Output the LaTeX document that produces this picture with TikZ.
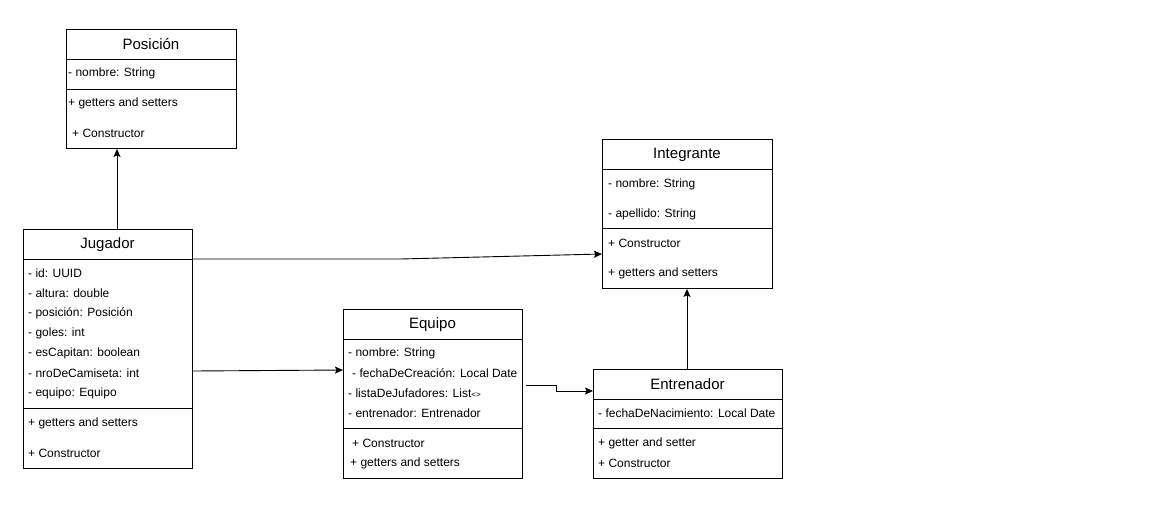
\documentclass[tikz,border=0pt]{standalone}
\usepackage{fontspec}
\setmainfont{Liberation Sans}
\usetikzlibrary{arrows.meta}
\begin{document}
\begin{tikzpicture}[x=1pt,y=-1pt,
  box/.style={draw, line width=0.9pt, anchor=north west, inner sep=0pt},
  ttl/.style={font=\fontsize{15}{17}\selectfont, inner sep=0pt, yshift=-0.5pt},
  attr/.style={font=\fontsize{12}{14}\selectfont, anchor=west, inner sep=0pt, yshift=-1pt},
  divl/.style={line width=0.9pt},
  arr/.style={line width=0.9pt, -{Stealth[length=8pt,width=7pt,inset=1.5pt]}}]
\useasboundingbox (0,0) rectangle (1173,531);
% Posicion
\node[box, minimum width=170pt, minimum height=119pt] (pos) at (66,29) {};
\node[ttl] (posT) at (151,44) {Posición};
\draw[divl] (66,59) -- (236,59);
\node[attr] (posA1) at (68,72) {- nombre: String};
\draw[divl] (66,89) -- (236,89);
\node[attr] (posM1) at (68,102) {+ getters and setters};
\node[attr] (posM2) at (72,132) {+ Constructor};
% Jugador
\node[box, minimum width=169pt, minimum height=239pt] (jug) at (23,229) {};
\node[ttl] (jugT) at (107.5,244) {Jugador};
\draw[divl] (23,259) -- (192,259);
\node[attr] (jugA1) at (28,272) {- id: UUID};
\node[attr] (jugA2) at (28,292) {- altura: double};
\node[attr] (jugA3) at (28,312) {- posición: Posición};
\node[attr] (jugA4) at (28,332) {- goles: int};
\node[attr] (jugA5) at (28,352) {- esCapitan: boolean};
\node[attr] (jugA6) at (28,372) {- nroDeCamiseta: int};
\node[attr] (jugA7) at (28,392) {- equipo: Equipo};
\draw[divl] (23,408) -- (192,408);
\node[attr] (jugM1) at (28,422) {+ getters and setters};
\node[attr] (jugM2) at (28,452) {+ Constructor};
% Equipo
\node[box, minimum width=179pt, minimum height=169pt] (equ) at (343,309) {};
\node[ttl] (equT) at (432.5,324) {Equipo};
\draw[divl] (343,339) -- (522,339);
\node[attr] (equA1) at (348,352) {- nombre: String};
\node[attr] (equA2) at (352,372) {- fechaDeCreación: Local Date};
\node[attr] (equA3) at (348,392) {- listaDeJufadores: List{\fontsize{8}{9}\selectfont<>}};
\node[attr] (equA4) at (348,412) {- entrenador: Entrenador};
\draw[divl] (343,428) -- (522,428);
\node[attr] (equM1) at (352,442) {+ Constructor};
\node[attr] (equM2) at (350,462) {+ getters and setters};
% Integrante
\node[box, minimum width=170pt, minimum height=149pt] (int) at (602,139) {};
\node[ttl] (intT) at (687,154) {Integrante};
\draw[divl] (602,169) -- (772,169);
\node[attr] (intA1) at (608,183) {- nombre: String};
\node[attr] (intA2) at (608,213) {- apellido: String};
\draw[divl] (602,228) -- (772,228);
\node[attr] (intM1) at (608,242) {+ Constructor};
\node[attr] (intM2) at (608,272) {+ getters and setters};
% Entrenador
\node[box, minimum width=189pt, minimum height=109pt] (ent) at (593,369) {};
\node[ttl] (entT) at (687.5,384) {Entrenador};
\draw[divl] (593,399) -- (782,399);
\node[attr] (entA1) at (598,412) {- fechaDeNacimiento: Local Date};
\draw[divl] (593,428) -- (782,428);
\node[attr] (entM1) at (598,442) {+ getter and setter};
\node[attr] (entM2) at (598,462) {+ Constructor};
% connectors
\draw[arr] (117,0 |- jug.north) -- (117,0 |- pos.south);
\draw[arr] (jug.east |- 0,259) -- (400,259) -- (int.west |- 0,254);
\draw[arr] (jug.east |- 0,371) -- (equ.west |- 0,370);
\coordinate (e1) at (556,385);
\coordinate (e2) at (556,391);
\draw[arr] (526,385) -- (e1) -- (e2) -- (ent.west |- e2);
\draw[arr] (687,0 |- ent.north) -- (687,0 |- int.south);
\end{tikzpicture}
\end{document}
